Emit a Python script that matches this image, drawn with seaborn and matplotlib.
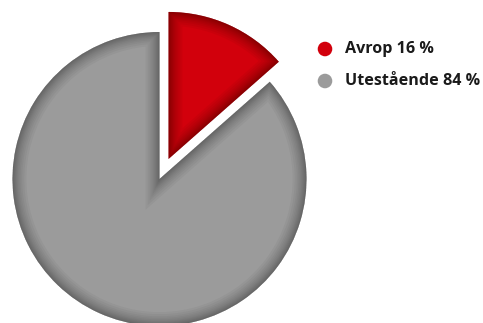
import matplotlib
matplotlib.use("Agg")
import matplotlib.pyplot as plt
import seaborn as sns
from matplotlib.patches import PathPatch

# Data
categories = ["Avrop", "Utestående"]
percent_labels = [16, 84]          # values printed in the legend
slice_shares = [13.5, 86.5]        # slice sizes as drawn in the reference
colors = ["#d2000c", "#9b9b9b"]
shadow_colors = ["#3a0000", "#303030"]

sns.set_theme(style="white")
plt.rcParams['font.family'] = ['Open Sans', 'DejaVu Sans']

W, H = 483, 323
fig = plt.figure(figsize=(W / 100, H / 100), dpi=100)
ax = fig.add_axes([0, 0, 1, 1])

wedges, _ = ax.pie(slice_shares, colors=colors, startangle=90, counterclock=False,
                   explode=[22, 0], radius=147, center=(159.5, H - 179),
                   wedgeprops=dict(linewidth=0))

# soft inner shadow along the edges of each slice
for wedge, sc in zip(wedges, shadow_colors):
    for lw in [20, 17, 14, 11.5, 9.5, 7.5, 6, 4.5, 3.2, 2, 1]:
        p = PathPatch(wedge.get_path(), transform=wedge.get_transform(),
                      facecolor="none", edgecolor=sc, linewidth=lw, alpha=0.055)
        ax.add_patch(p)
        p.set_clip_path(wedge)

ax.set_xlim(0, W)
ax.set_ylim(0, H)
ax.set_aspect('equal')
ax.axis('off')

# legend
legend_y = [H - 49, H - 81]
for cat, pct, col, y in zip(categories, percent_labels, colors, legend_y):
    ax.scatter([325], [y], s=110, color=col, edgecolors="none", zorder=5)
    ax.text(345, y, f"{cat} {pct} %", fontsize=11.6, fontweight="bold",
            color="#1a1a1a", va="center", ha="left")

fig.savefig("out.png", dpi=100)
